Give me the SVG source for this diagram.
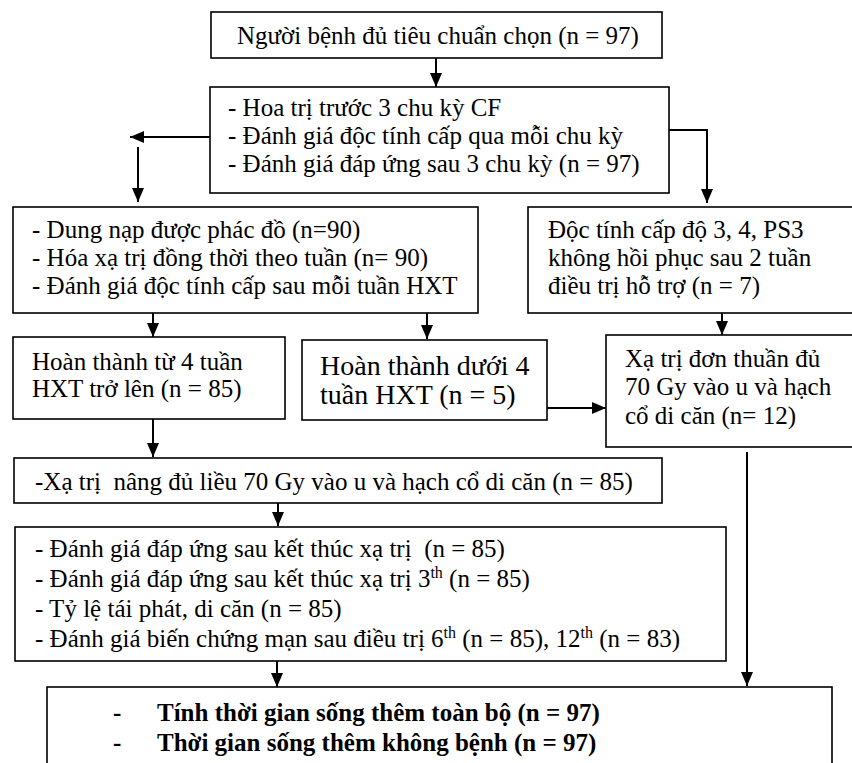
<svg xmlns="http://www.w3.org/2000/svg" width="852" height="763" viewBox="0 0 852 763">
<defs>
<marker id="ah" markerUnits="userSpaceOnUse" markerWidth="14" markerHeight="12" refX="14" refY="6" orient="auto">
<path d="M0,0 L14,6 L0,12 z" fill="#000"/>
</marker>
<style>
.box{fill:#fff;stroke:#000;stroke-width:1.6}
.t{font-family:"Liberation Serif","Times New Roman",serif;font-size:25px;fill:#000;white-space:pre}
.big{font-size:28px}
.b{font-weight:bold}
.c{fill:none;stroke:#000;stroke-width:2}
.sup{font-size:16px}
</style>
</defs>
<rect width="852" height="763" fill="#fff"/>
<g id="connectors">
<line class="c" x1="436" y1="58" x2="436" y2="87" marker-end="url(#ah)"/>
<line class="c" x1="210" y1="137" x2="130" y2="137" marker-end="url(#ah)"/>
<line class="c" x1="138" y1="147" x2="138" y2="202" marker-end="url(#ah)"/>
<polyline class="c" points="669,130 707,130 707,203" marker-end="url(#ah)"/>
<line class="c" x1="153" y1="313" x2="153" y2="337" marker-end="url(#ah)"/>
<line class="c" x1="427" y1="313" x2="427" y2="339" marker-end="url(#ah)"/>
<line class="c" x1="722" y1="313" x2="722" y2="335" marker-end="url(#ah)"/>
<line class="c" x1="547" y1="408" x2="606" y2="408" marker-end="url(#ah)"/>
<line class="c" x1="153" y1="419" x2="153" y2="457" marker-end="url(#ah)"/>
<line class="c" x1="278" y1="503" x2="278" y2="526" marker-end="url(#ah)"/>
<line class="c" x1="277" y1="661" x2="277" y2="687" marker-end="url(#ah)"/>
<line class="c" x1="747" y1="452" x2="747" y2="686" marker-end="url(#ah)"/>
</g>
<g id="n1">
<rect class="box" x="211" y="12" width="451" height="46"/>
<text class="t" x="237" y="44">Người bệnh đủ tiêu chuẩn chọn (n = 97)</text>
</g>
<g id="n2">
<rect class="box" x="210" y="87" width="459" height="106"/>
<text class="t" x="228" y="116">- Hoa trị trước 3 chu kỳ CF</text>
<text class="t" x="228" y="144">- Đánh giá độc tính cấp qua mỗi chu kỳ</text>
<text class="t" x="228" y="172">- Đánh giá đáp ứng sau 3 chu kỳ (n = 97)</text>
</g>
<g id="n3">
<rect class="box" x="13" y="207" width="465" height="106"/>
<text class="t" x="32" y="238">- Dung nạp được phác đồ (n=90)</text>
<text class="t" x="32" y="266">- Hóa xạ trị đồng thời theo tuần (n= 90)</text>
<text class="t" x="32" y="294">- Đánh giá độc tính cấp sau mỗi tuần HXT</text>
</g>
<g id="n4">
<rect class="box" x="528" y="207" width="340" height="106"/>
<text class="t" x="548" y="238">Độc tính cấp độ 3, 4, PS3</text>
<text class="t" x="548" y="266">không hồi phục sau 2 tuần</text>
<text class="t" x="548" y="294">điều trị hỗ trợ (n = 7)</text>
</g>
<g id="n5">
<rect class="box" x="13" y="337" width="272" height="82"/>
<text class="t" x="32" y="370">Hoàn thành từ 4 tuần</text>
<text class="t" x="32" y="397">HXT trở lên (n = 85)</text>
</g>
<g id="n6">
<rect class="box" x="302" y="340" width="245" height="80"/>
<text class="t big" x="320" y="375">Hoàn thành dưới 4</text>
<text class="t big" x="320" y="404">tuần HXT (n = 5)</text>
</g>
<g id="n7">
<rect class="box" x="606" y="335" width="262" height="112"/>
<text class="t" x="625" y="367">Xạ trị đơn thuần đủ</text>
<text class="t" x="625" y="395">70 Gy vào u và hạch</text>
<text class="t" x="625" y="424">cổ di căn (n= 12)</text>
</g>
<g id="n8">
<rect class="box" x="14" y="458" width="648" height="45"/>
<text class="t" x="35" y="490">-Xạ trị  nâng đủ liều 70 Gy vào u và hạch cổ di căn (n = 85)</text>
</g>
<g id="n9">
<rect class="box" x="15" y="527" width="711" height="134"/>
<text class="t" x="35" y="557">- Đánh giá đáp ứng sau kết thúc xạ trị  (n = 85)</text>
<text class="t" x="35" y="587">- Đánh giá đáp ứng sau kết thúc xạ trị 3<tspan class="sup" dy="-9">th</tspan><tspan dy="9"> (n = 85)</tspan></text>
<text class="t" x="35" y="617">- Tỷ lệ tái phát, di căn (n = 85)</text>
<text class="t" x="35" y="647">- Đánh giá biến chứng mạn sau điều trị 6<tspan class="sup" dy="-9">th</tspan><tspan dy="9"> (n = 85), 12</tspan><tspan class="sup" dy="-9">th</tspan><tspan dy="9"> (n = 83)</tspan></text>
</g>
<g id="n10">
<rect class="box" x="47" y="687" width="785" height="100"/>
<text class="t b" x="113" y="721">-</text>
<text class="t b" x="157" y="721">Tính thời gian sống thêm toàn bộ (n = 97)</text>
<text class="t b" x="113" y="751">-</text>
<text class="t b" x="157" y="751">Thời gian sống thêm không bệnh (n = 97)</text>
</g>
</svg>
